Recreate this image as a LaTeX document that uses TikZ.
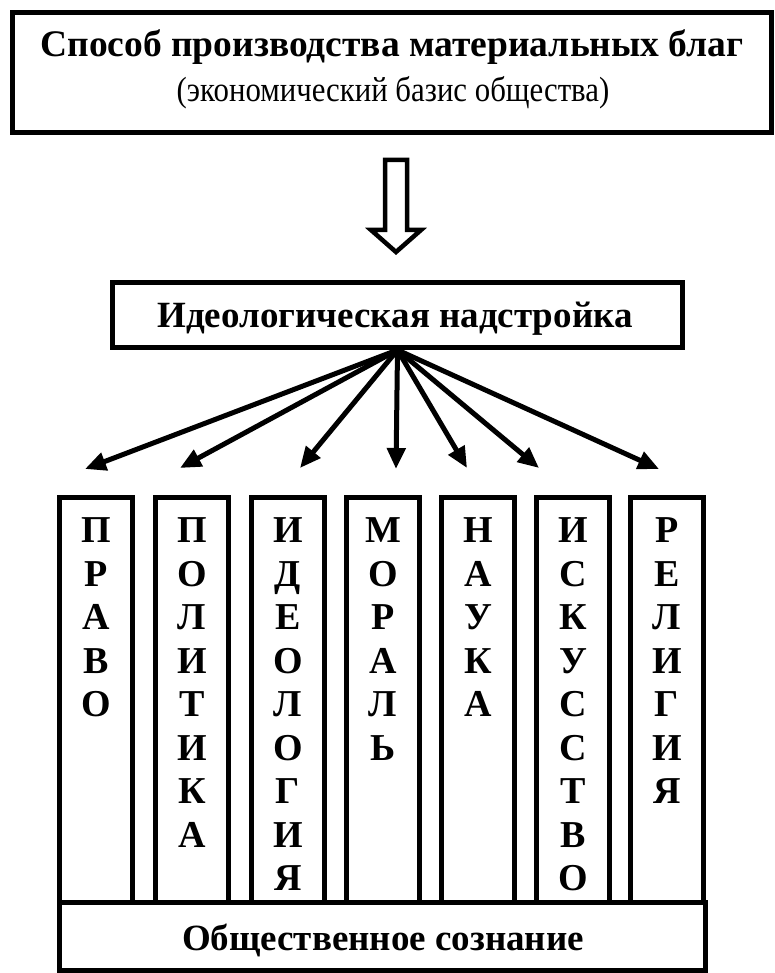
\documentclass[tikz,border=0pt]{standalone}
\usepackage{fontspec}
\setmainfont{Liberation Serif}
\usetikzlibrary{arrows.meta,positioning,calc}

\begin{document}
\begin{tikzpicture}[x=1pt, y=-1pt, font=\fontsize{37}{43.5}\selectfont,
    box/.style={draw, line width=5pt, inner sep=0pt},
    fan/.style={line width=5pt, -{Triangle[length=21pt, width=18pt]}}]
    \useasboundingbox (0,0) rectangle (774,973);

    % Base
    \node[box, minimum width=759pt, minimum height=120pt] (base) at (392,72.5) {};
    \node[anchor=base, inner sep=0pt, font=\fontsize{37.5}{43.5}\selectfont\bfseries] (basetitle) at (392,57) {Способ производства материальных благ};
    \node[anchor=base, inner sep=0pt, font=\fontsize{35}{43.5}\selectfont] (basenote) at (393,102) {\scalebox{0.88}[1]{(экономический базис общества)}};

    % Hollow arrow
    \draw[line width=4.5pt, line join=miter] (385,160) -- (407,160) -- (407,230) -- (421,230)
        -- (396,252) -- (371,230) -- (385,230) -- cycle;

    % Superstructure
    \node[box, minimum width=570pt, minimum height=65pt] (ideo) at (397.5,315) {};
    \node[anchor=base, inner sep=0pt, font=\fontsize{37}{43.5}\selectfont\bfseries] (ideotext) at (395,327) {Идеологическая надстройка};

    % Columns
    \foreach \cx/\word [count=\i] in {96/{П\\Р\\А\\В\\О}, 192/{П\\О\\Л\\И\\Т\\И\\К\\А},
        288/{И\\Д\\Е\\О\\Л\\О\\Г\\И\\Я}, 383/{М\\О\\Р\\А\\Л\\Ь}, 478/{Н\\А\\У\\К\\А},
        573/{И\\С\\К\\У\\С\\С\\Т\\В\\О}, 667/{Р\\Е\\Л\\И\\Г\\И\\Я}} {
        \node[box, anchor=north, minimum width=73pt, minimum height=407.5pt] (col\i) at (\cx,494.5) {};
        \node[anchor=north, inner sep=0pt, align=center, font=\fontsize{38}{43.5}\selectfont\bfseries] (word\i) at (\cx,517.5) {\word};
    }

    % Arrow tips
    \coordinate (t1) at (85,469);
    \coordinate (t2) at (180,468);
    \coordinate (t3) at (300,468);
    \coordinate (t4) at (396,469);
    \coordinate (t5) at (467,468);
    \coordinate (t6) at (539,468);
    \coordinate (t7) at (659,469);
    \foreach \i in {1,...,7}
        \draw[fan] (ideo.south) -- (t\i);

    % Social consciousness
    \node[box, fill=white, minimum width=646pt, minimum height=68pt] (soc) at (382.5,936) {};
    \node[anchor=base, inner sep=0pt, font=\fontsize{37}{43.5}\selectfont\bfseries] (soctext) at (383,950) {Общественное сознание};
\end{tikzpicture}
\end{document}
